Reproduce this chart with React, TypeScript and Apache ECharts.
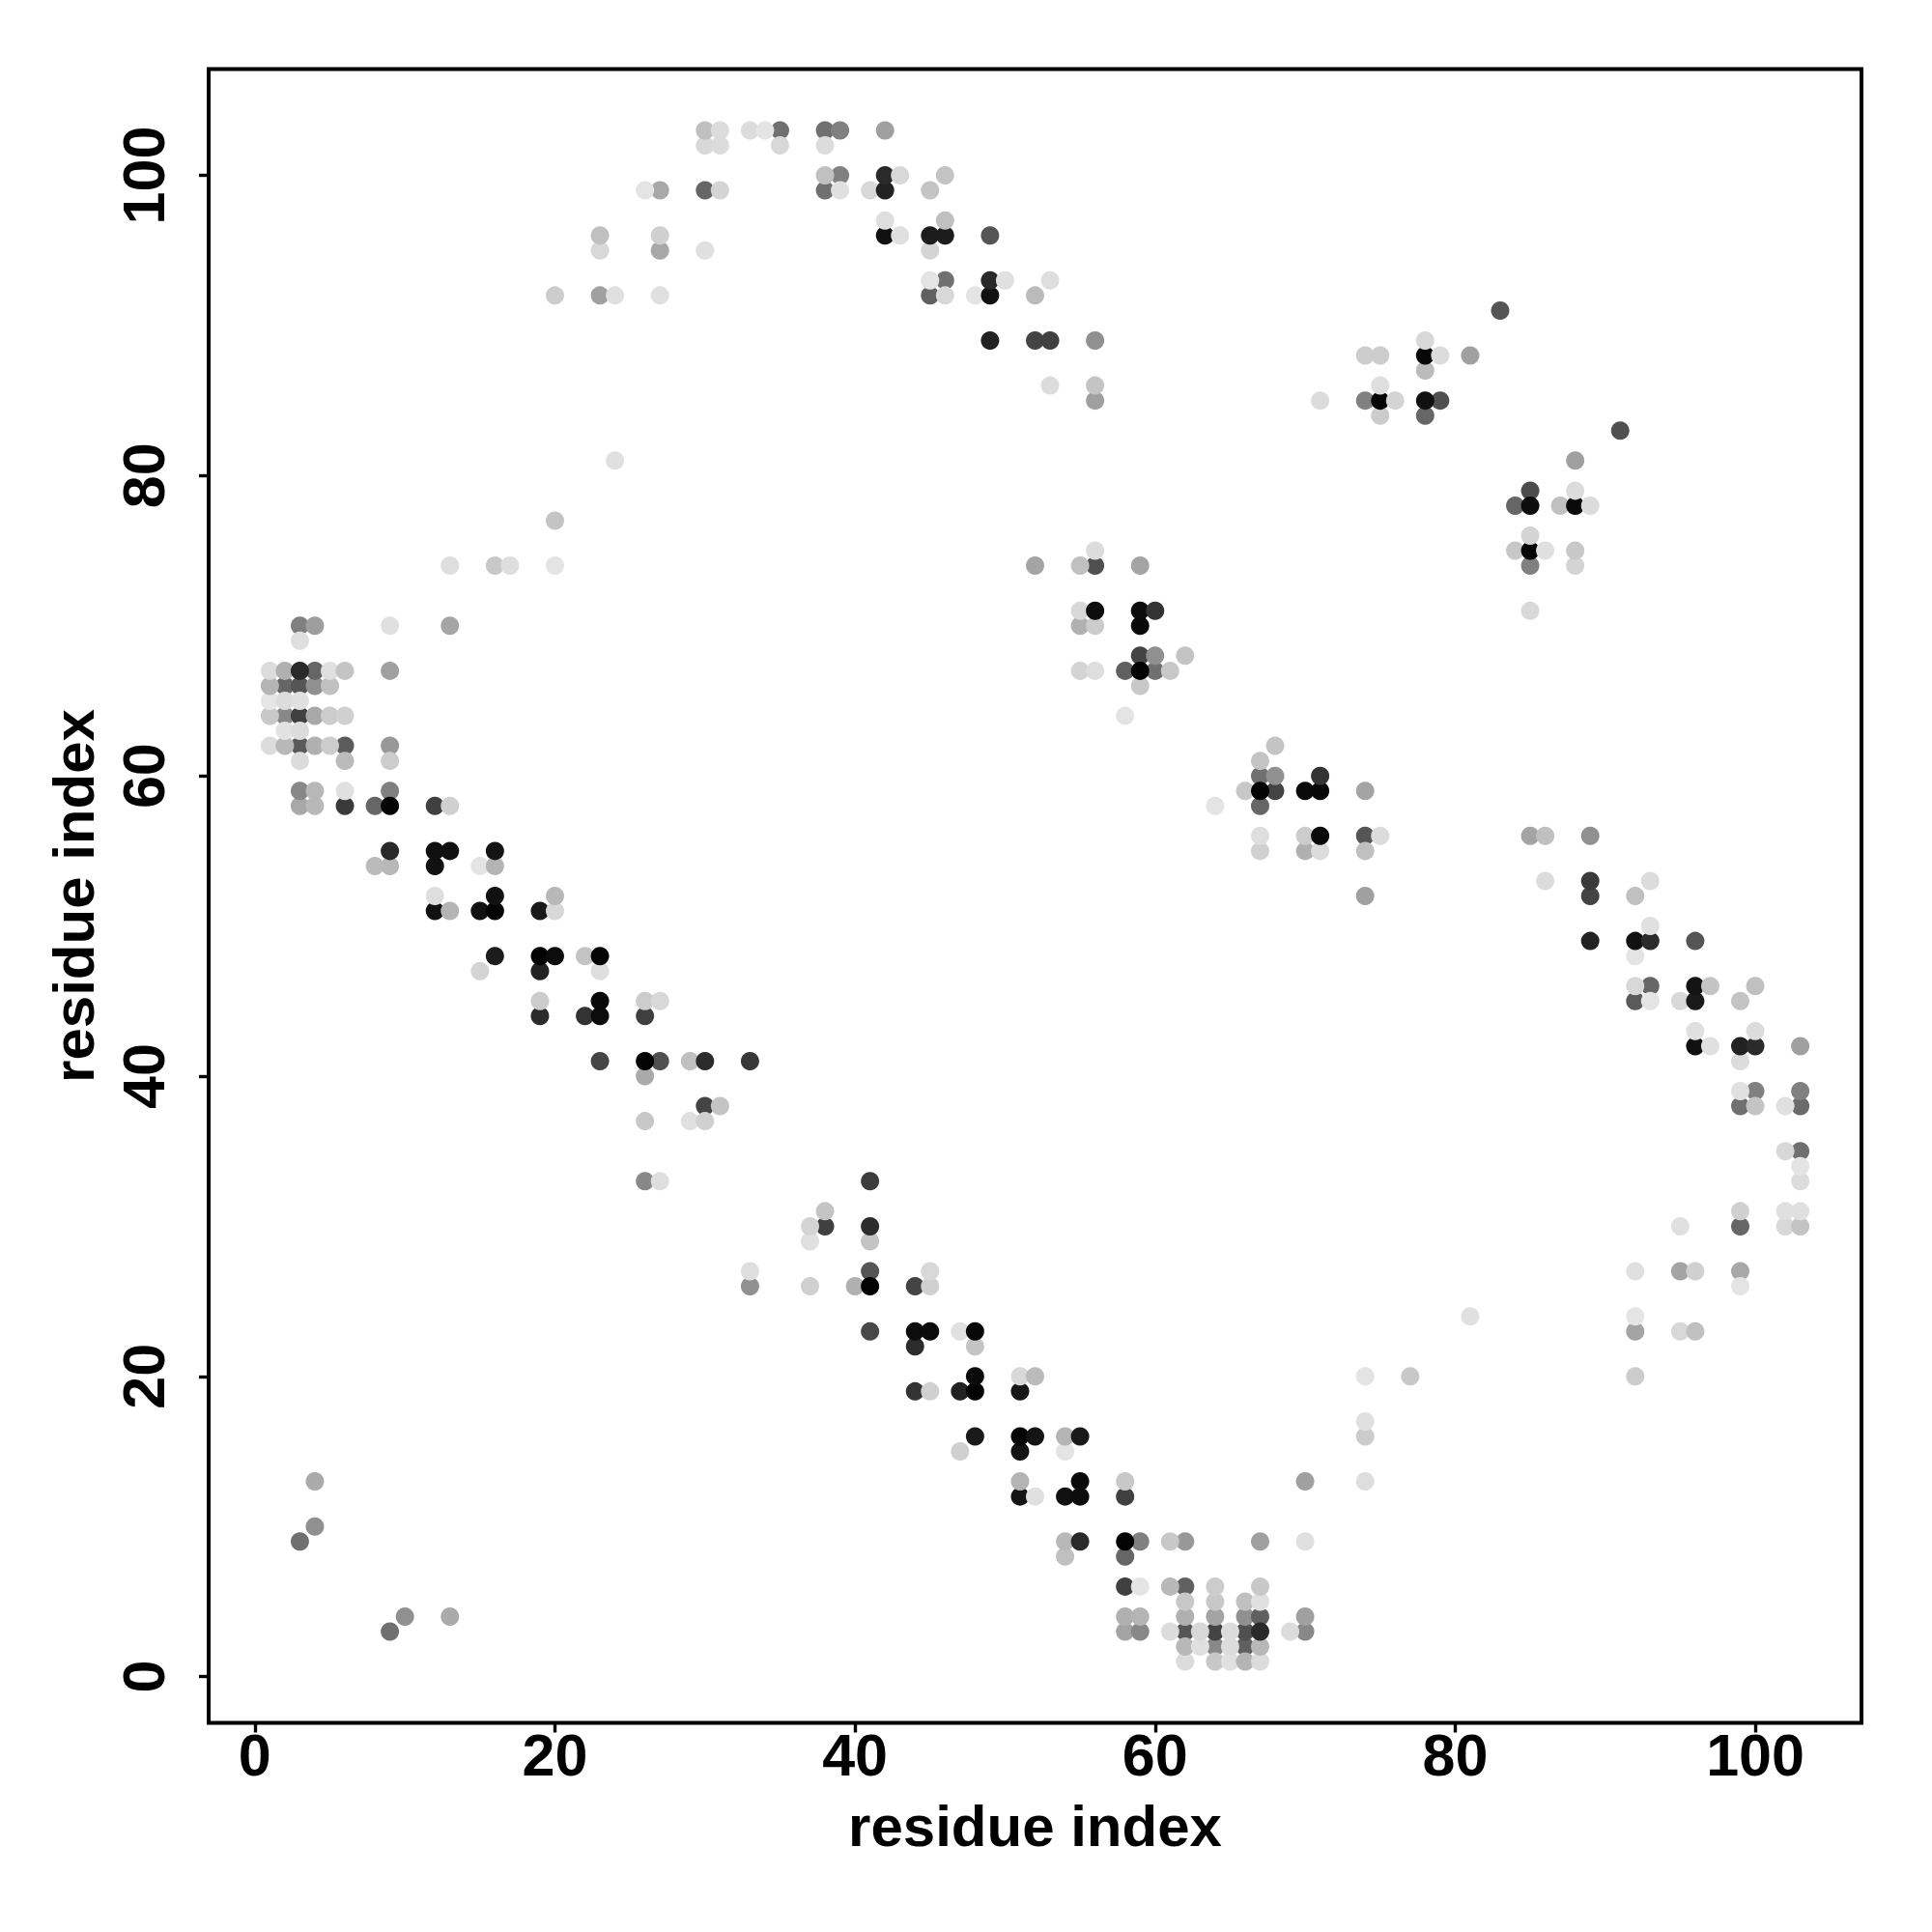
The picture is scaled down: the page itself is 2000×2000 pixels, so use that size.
import React, { useEffect, useRef } from "react";
import * as echarts from "echarts";

const xTicks = [0, 20, 40, 60, 80, 100];
const yTicks = [0, 20, 40, 60, 80, 100];
const xTitle = "residue index";
const yTitle = "residue index";

// Each row: y, then pairs of x and grey level
const highRows: number[][] = [
  [103, 30,0xc0, 31,0xdc, 33,0xdc, 34,0xe4, 35,0x70, 38,0x70, 39,0x80, 42,0xa0],
  [102, 30,0xd8, 31,0xdc, 35,0xd8, 38,0xdc],
  [100, 38,0xc0, 39,0x80, 42,0x2a, 43,0xd8, 46,0xc4],
  [99, 26,0xe4, 27,0xa8, 30,0x66, 31,0xd4, 38,0x70, 39,0xe0, 41,0xd8, 42,0x22, 45,0xc4],
  [97, 42,0xde, 46,0xc0],
  [96, 23,0xc0, 27,0xd0, 42,0x11, 43,0xe0, 45,0x1c, 46,0x1c, 49,0x55],
  [95, 23,0xd8, 27,0xa8, 30,0xe0, 45,0xd4],
  [93, 45,0xe4, 46,0x70, 49,0x2a, 50,0xe0, 53,0xde],
  [92, 20,0xcc, 23,0xa0, 24,0xe0, 27,0xe0, 45,0x60, 46,0xd8, 48,0xe4, 49,0x11, 52,0xbb],
  [91, 83,0x55],
  [89, 49,0x22, 52,0x44, 53,0x40, 56,0x90, 78,0xd8],
  [88, 74,0xcc, 75,0xcc, 78,0x08, 79,0xdc, 81,0xa0],
  [87, 78,0xbb],
  [86, 53,0xdc, 56,0xc4, 75,0xde],
  [85, 56,0xa0, 71,0xdc, 74,0x80, 75,0x05, 76,0xd4, 78,0x11, 79,0x50],
  [84, 75,0xcc, 78,0x66],
  [83, 91,0x50],
  [81, 24,0xe0, 88,0xa0],
  [79, 85,0x4c, 88,0xdc],
  [78, 84,0x66, 85,0x0c, 87,0xc0, 88,0x0a, 89,0xdc],
  [77, 20,0xc4],
  [76, 85,0xd4],
  [75, 56,0xdc, 84,0xc8, 85,0x06, 86,0xe0, 88,0xc8],
  [74, 13,0xde, 16,0xc8, 17,0xde, 20,0xe4, 52,0xa4, 55,0xc0, 56,0x50, 59,0xa4, 85,0x80, 88,0xd4],
  [71, 55,0xd8, 56,0x0c, 59,0x0c, 60,0x33, 85,0xd8],
  [70, 3,0x80, 4,0x9e, 9,0xe0, 13,0xa5, 55,0xb0, 56,0xcc, 59,0x0a],
  [69, 3,0xdf],
  [68, 59,0x44, 60,0x90, 62,0xc4],
];

const midRows: number[][] = [
  [67, 1,0xdc, 2,0xb0, 3,0x2a, 4,0x66, 5,0xe0, 6,0xc4, 9,0xa0, 55,0xd4, 56,0xde, 58,0x60, 59,0x03, 60,0x70, 61,0xc8],
  [66, 1,0xb4, 2,0x66, 3,0x55, 4,0x90, 5,0xc0, 59,0xc8],
  [65, 1,0xe6, 2,0xdc, 3,0xe0],
  [64, 1,0xc8, 2,0x88, 3,0x40, 4,0xa8, 5,0xcc, 6,0xd0, 58,0xe4],
  [63, 2,0xe2, 3,0xdc],
  [62, 1,0xdc, 2,0xb8, 3,0x5a, 4,0xb0, 5,0xcc, 6,0x5c, 9,0x98, 68,0xc4],
  [61, 3,0xdc, 6,0xbb, 9,0xcc, 67,0xc4],
  [60, 67,0x70, 68,0x90, 71,0x33],
  [59, 3,0x88, 4,0xb8, 6,0xe0, 9,0x80, 66,0xc8, 67,0x04, 68,0x44, 70,0x0a, 71,0x06, 74,0xa4],
  [58, 3,0xa8, 4,0xb8, 6,0x3a, 8,0x66, 9,0x05, 12,0x40, 13,0xd0, 64,0xe4, 67,0x66],
  [56, 67,0xde, 70,0xcc, 71,0x0a, 74,0x55, 75,0xdc, 85,0xa4, 86,0xc0, 89,0x90],
  [55, 9,0x2a, 12,0x0f, 13,0x11, 16,0x14, 67,0xd0, 70,0xb0, 71,0xdc, 74,0xc0],
  [54, 8,0xbb, 9,0xb8, 12,0x11, 15,0xe4, 16,0xb4],
  [53, 86,0xdc, 89,0x3a, 93,0xdc],
  [52, 12,0xde, 16,0x11, 20,0xb8, 74,0xa0, 89,0x44, 92,0xc0],
  [51, 12,0x11, 13,0xb4, 15,0x11, 16,0x03, 19,0x1a, 20,0xd8],
  [50, 93,0xe0],
  [49, 89,0x22, 92,0x11, 93,0x2c, 96,0x55],
  [48, 16,0x1c, 19,0x03, 20,0x0c, 22,0xc4, 23,0x05, 92,0xe4],
  [47, 15,0xd4, 19,0x22, 23,0xde],
  [46, 92,0xd8, 93,0x66, 96,0x14, 97,0xc4, 100,0xc0],
  [45, 19,0xcc, 23,0x08, 26,0xcc, 27,0xd8, 92,0x5a, 93,0xe4, 95,0xd8, 96,0x1a, 99,0xc4],
  [44, 19,0x2c, 22,0x33, 23,0x0c, 26,0x40],
  [43, 96,0xe0, 100,0xdc],
  [42, 96,0x11, 97,0xe0, 99,0x22, 100,0x2a, 103,0xa0],
  [41, 23,0x45, 26,0x03, 27,0x50, 29,0xc0, 30,0x2c, 33,0x38, 99,0xdc],
  [40, 26,0xaa],
  [39, 99,0xe0, 100,0x80, 103,0x80],
  [38, 30,0x44, 31,0xc4, 99,0x70, 100,0xc4, 102,0xe0, 103,0x6a],
  [37, 26,0xc8, 29,0xe0, 30,0xd0],
  [35, 102,0xd8, 103,0x70],
  [34, 103,0xe4],
];

const lowRows: number[][] = [
  [33, 26,0x88, 27,0xde, 41,0x3c, 103,0xdc],
  [31, 38,0xc4, 99,0xd0, 102,0xe0, 103,0xe0],
  [30, 37,0xd4, 38,0x40, 41,0x2c, 95,0xe0, 99,0x66, 102,0xd8, 103,0xc4],
  [29, 37,0xe0, 41,0xc4],
  [27, 33,0xde, 41,0x55, 45,0xd8, 92,0xe0, 95,0xa4, 96,0xd0, 99,0xa8],
  [26, 33,0x90, 37,0xd0, 40,0xb0, 41,0x03, 44,0x44, 45,0xd0, 99,0xe4],
  [24, 81,0xe0, 92,0xe4],
  [23, 41,0x48, 44,0x0c, 45,0x0c, 47,0xe0, 48,0x08, 92,0xa4, 95,0xd8, 96,0xc0],
  [22, 44,0x2c, 48,0xc4],
  [20, 48,0x0a, 51,0xd8, 52,0xbb, 74,0xe4, 77,0xc8, 92,0xcc],
  [19, 44,0x33, 45,0xd0, 47,0x22, 48,0x03, 51,0x18],
  [17, 74,0xe0],
  [16, 48,0x1a, 51,0x05, 52,0x14, 54,0xb4, 55,0x1a, 74,0xcc],
  [15, 47,0xd0, 51,0x14, 54,0xe4],
  [13, 4,0xaa, 51,0xb4, 55,0x0a, 58,0xc8, 70,0xa0, 74,0xde],
  [12, 51,0x14, 52,0xe0, 54,0x11, 55,0x0c, 58,0x40],
  [10, 4,0x90],
  [9, 3,0x70, 54,0xb8, 55,0x2a, 58,0x03, 59,0x80, 61,0xc8, 62,0x98, 67,0xa0, 70,0xe0],
  [8, 54,0xc0, 58,0x66],
  [6, 58,0x40, 59,0xe4, 61,0xb8, 62,0x60, 64,0xcc, 67,0xc8],
  [5, 62,0xc8, 64,0xc8, 66,0xc0, 67,0xe0],
  [4, 10,0x90, 13,0xaa, 58,0xb0, 59,0xb4, 62,0xb0, 64,0xa4, 66,0x90, 67,0x60, 70,0xa0],
  [3, 9,0x70, 58,0xa4, 59,0x88, 61,0xdc, 62,0x55, 63,0xd8, 64,0x44, 65,0xdc, 66,0x50, 67,0x2a, 69,0xdc, 70,0x88],
  [2, 62,0xb8, 63,0xe0, 64,0x88, 65,0xdc, 66,0x60, 67,0xb8],
  [1, 62,0xdc, 64,0xc8, 65,0xe0, 66,0xb4, 67,0xdc],
];

function buildPoints() {
  const pts: { x: number; y: number; g: number }[] = [];
  for (const row of [...highRows, ...midRows, ...lowRows]) {
    for (let i = 1; i < row.length; i += 2) {
      pts.push({ x: row[i], y: row[0], g: row[i + 1] });
    }
  }
  const isMid = (g: number) => g >= 0x40 && g <= 0xa8;
  pts.sort((a, b) => {
    const la = isMid(a.g) ? 0 : 1;
    const lb = isMid(b.g) ? 0 : 1;
    return la - lb || a.x - b.x || a.y - b.y;
  });
  return pts.map((p) => ({
    value: [p.x, p.y],
    itemStyle: { color: `rgb(${p.g},${p.g},${p.g})` },
  }));
}

const FONT = '"Liberation Sans", Arial, Helvetica, sans-serif';

export default function App() {
  const ref = useRef<HTMLDivElement>(null);
  useEffect(() => {
    document.body.style.margin = "0";
    const chart = echarts.init(ref.current!, undefined, { renderer: "svg" });
    const axisCommon = {
      type: "value",
      min: -3.08,
      max: 107.08,
      splitLine: { show: false },
      axisLine: { show: false, onZero: false },
      nameLocation: "middle",
      nameTextStyle: { fontFamily: FONT, fontWeight: "bold", fontSize: 60, color: "#000" },
    };
    chart.setOption({
      animation: false,
      backgroundColor: "#fff",
      grid: {
        left: 216,
        top: 71.5,
        width: 1711,
        height: 1712,
        show: true,
        borderColor: "#000",
        borderWidth: 4,
        backgroundColor: "transparent",
      },
      xAxis: {
        ...axisCommon,
        name: xTitle,
        nameGap: 77,
        axisTick: { show: true, customValues: xTicks, length: 10, lineStyle: { color: "#000", width: 3.4 } },
        axisLabel: {
          customValues: xTicks,
          margin: 3,
          fontFamily: FONT,
          fontWeight: "bold",
          fontSize: 61,
          color: "#000",
          hideOverlap: false,
          showMinLabel: true,
          showMaxLabel: true,
        },
      },
      yAxis: {
        ...axisCommon,
        name: yTitle,
        nameGap: 110,
        axisTick: { show: true, customValues: yTicks, length: 10, lineStyle: { color: "#000", width: 3.4 } },
        axisLabel: {
          customValues: yTicks,
          rotate: 90,
          margin: 37,
          fontFamily: FONT,
          fontWeight: "bold",
          fontSize: 61,
          color: "#000",
          align: "center",
          verticalAlign: "bottom",
        },
      },
      series: [
        {
          type: "scatter",
          symbol: "circle",
          symbolSize: 19,
          data: buildPoints(),
          itemStyle: { opacity: 1 },
          emphasis: { disabled: true },
        },
      ],
    });
    return () => chart.dispose();
  }, []);
  return <div ref={ref} style={{ width: 2000, height: 2000, background: "#fff" }} />;
}
